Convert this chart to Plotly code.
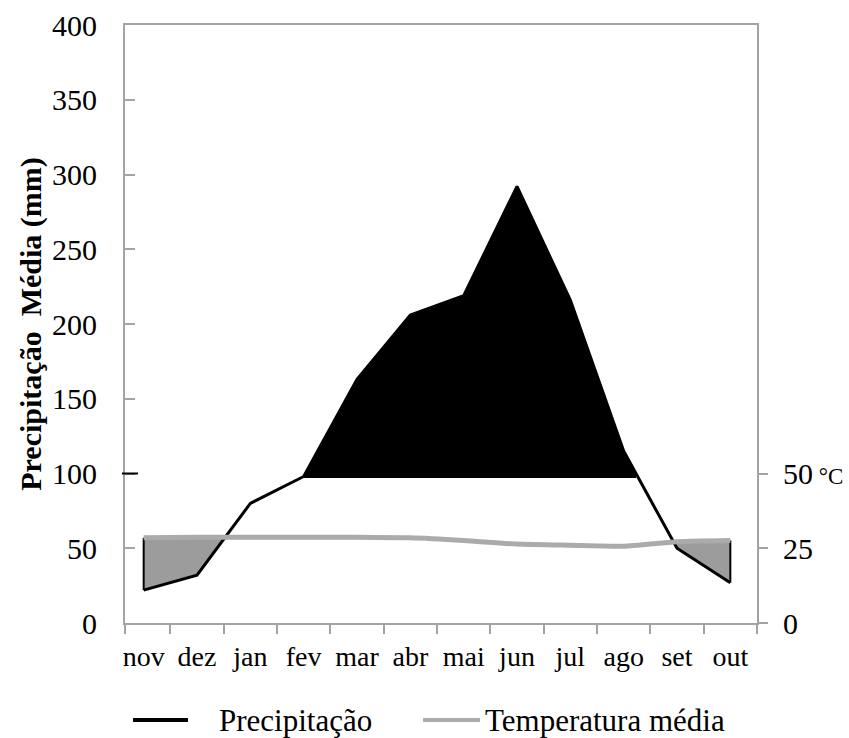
import plotly.graph_objects as go

# Monthly climate data (Walter-Lieth style diagram)
months = ["nov", "dez", "jan", "fev", "mar", "abr", "mai", "jun", "jul", "ago", "set", "out"]
precip_mm = [22, 32, 80, 98, 163, 206, 219, 292, 216, 115, 50, 27]
temp_c = [28.5, 28.7, 28.7, 28.7, 28.7, 28.5, 27.6, 26.4, 26.0, 25.7, 27.2, 27.6]

temp_ticks = [0, 25, 50]
temp_ticktext = ["0", "25", "50<span style='font-size:23px'> °C</span>"]
precip_ticks = list(range(0, 401, 50))

HUMID_LEVEL = 100      # precipitation above which the humid area is filled
HUMID_BASE = 97        # lower edge of the black humid area
MM_PER_DEG = 2         # 1 °C on the right axis = 2 mm on the left axis

FONT = "Liberation Serif"
AXIS_GREY = "#a3a3a3"
DRY_FILL = "#9c9c9c"
TEMP_LINE = "#ababab"

x = list(range(len(months)))
temp_mm = [t * MM_PER_DEG for t in temp_c]


def crossing(i0, i1, a, b):
    """Linear crossing point of series a and b between indices i0 and i1."""
    d0 = a[i0] - b[i0]
    d1 = a[i1] - b[i1]
    f = d0 / (d0 - d1)
    xc = x[i0] + f * (x[i1] - x[i0])
    yc = a[i0] + f * (a[i1] - a[i0])
    return xc, yc


def dry_periods(p, t):
    """Segments where precipitation lies below the scaled temperature."""
    polys, cur = [], None
    for i in range(len(x)):
        if p[i] < t[i]:
            if cur is None:
                cur = []
                if i > 0:
                    xc, yc = crossing(i - 1, i, p, t)
                    cur.append((xc, yc, yc))
            cur.append((x[i], p[i], t[i]))
        elif cur is not None:
            xc, yc = crossing(i - 1, i, p, t)
            cur.append((xc, yc, yc))
            polys.append(cur)
            cur = None
    if cur:
        polys.append(cur)
    return polys


fig = go.Figure()

# Dry periods (grey areas between temperature and precipitation)
for poly in dry_periods(precip_mm, temp_mm):
    px = [v[0] for v in poly] + [v[0] for v in reversed(poly)]
    py = [v[2] for v in poly] + [v[1] for v in reversed(poly)]
    fig.add_trace(go.Scatter(
        x=px, y=py, mode="lines", fill="toself", fillcolor=DRY_FILL,
        line=dict(width=0), hoverinfo="skip", showlegend=False))

# Humid period (black area above the humid level)
wet_idx = [i for i, v in enumerate(precip_mm) if v >= HUMID_LEVEL - 3]
i_first, i_last = wet_idx[0], wet_idx[-1]
hx = [x[i_first]] + [x[i] for i in wet_idx]
hy = [HUMID_BASE] + [precip_mm[i] for i in wet_idx]
if i_last + 1 < len(x):
    lvl = [HUMID_LEVEL] * len(x)
    xc, yc = crossing(i_last, i_last + 1, precip_mm, lvl)
    hx.append(xc)
    hy.append(yc)
hx.append(hx[-1])
hy.append(HUMID_BASE)
fig.add_trace(go.Scatter(
    x=hx, y=hy, mode="lines", fill="toself", fillcolor="black",
    line=dict(width=0), hoverinfo="skip", showlegend=False))

# Mean temperature (right axis)
fig.add_trace(go.Scatter(
    x=x, y=temp_c, yaxis="y2", mode="lines", name="Temperatura média",
    line=dict(color=TEMP_LINE, width=5, shape="spline", smoothing=0.6),
    showlegend=False))

# Precipitation (left axis)
fig.add_trace(go.Scatter(
    x=x, y=precip_mm, mode="lines", name="Precipitação",
    line=dict(color="black", width=3), showlegend=False))

# Closing edges of the dry areas at the first and last month
for i in (0, len(x) - 1):
    fig.add_trace(go.Scatter(
        x=[x[i], x[i]], y=[temp_mm[i], precip_mm[i]], mode="lines",
        line=dict(color="black", width=2), hoverinfo="skip", showlegend=False))

month_font = dict(family=FONT, size=28, color="black")
value_font = dict(family=FONT, size=30, color="black")

fig.update_layout(
    width=849, height=738,
    margin=dict(l=125, r=92, t=25, b=115, autoexpand=False),
    paper_bgcolor="white", plot_bgcolor="white",
    font=dict(family=FONT, color="black"),
    xaxis=dict(
        range=[-0.35, 11.5], tickmode="array", tickvals=x, ticktext=months,
        ticks="", showgrid=False, zeroline=False, automargin=False,
        showline=True, linecolor=AXIS_GREY, linewidth=2, mirror=True,
        tickfont=month_font, ticklabelstandoff=7,
        minor=dict(tickmode="array", tickvals=[-0.35] + [i + 0.5 for i in x],
                   ticks="outside", ticklen=9, tickcolor=AXIS_GREY, tickwidth=2,
                   showgrid=False),
    ),
    yaxis=dict(
        range=[0, 400], tickmode="array", tickvals=precip_ticks,
        ticks="inside", ticklen=10, tickcolor=AXIS_GREY, tickwidth=2,
        showgrid=False, zeroline=False, automargin=False,
        showline=True, linecolor=AXIS_GREY, linewidth=2,
        tickfont=value_font, ticklabelstandoff=20,
        title=dict(text="Precipitação  Média (mm)",
                   font=dict(family=FONT, size=30, weight="bold"),
                   standoff=2),
    ),
    yaxis2=dict(
        range=[0, 200], overlaying="y", side="right",
        tickmode="array", tickvals=temp_ticks, ticktext=temp_ticktext,
        ticks="outside", ticklen=9, tickcolor=AXIS_GREY, tickwidth=2,
        showgrid=False, zeroline=False, automargin=False,
        showline=True, linecolor=AXIS_GREY, linewidth=2,
        tickfont=value_font, ticklabelstandoff=9,
    ),
)

# Marker of the humid level on the precipitation axis
fig.add_shape(type="line", xref="paper", yref="y",
              x0=-3 / 632, x1=13 / 632, y0=HUMID_LEVEL, y1=HUMID_LEVEL,
              line=dict(color="black", width=2))

# Legend drawn below the plot
legend_y = -97 / 598
legend_items = [
    ("Precipitação", "black", 133, 188, 217),
    ("Temperatura média", TEMP_LINE, 423, 480, 483),
]
for label, color, lx0, lx1, tx in legend_items:
    fig.add_shape(type="line", xref="paper", yref="paper",
                  x0=(lx0 - 125) / 632, x1=(lx1 - 125) / 632,
                  y0=legend_y, y1=legend_y,
                  line=dict(color=color, width=4))
    fig.add_annotation(text=label, xref="paper", yref="paper",
                       x=(tx - 125) / 632, y=legend_y, xanchor="left",
                       yanchor="middle", showarrow=False,
                       font=dict(family=FONT, size=31, color="black"))

fig.write_html("out.html")
